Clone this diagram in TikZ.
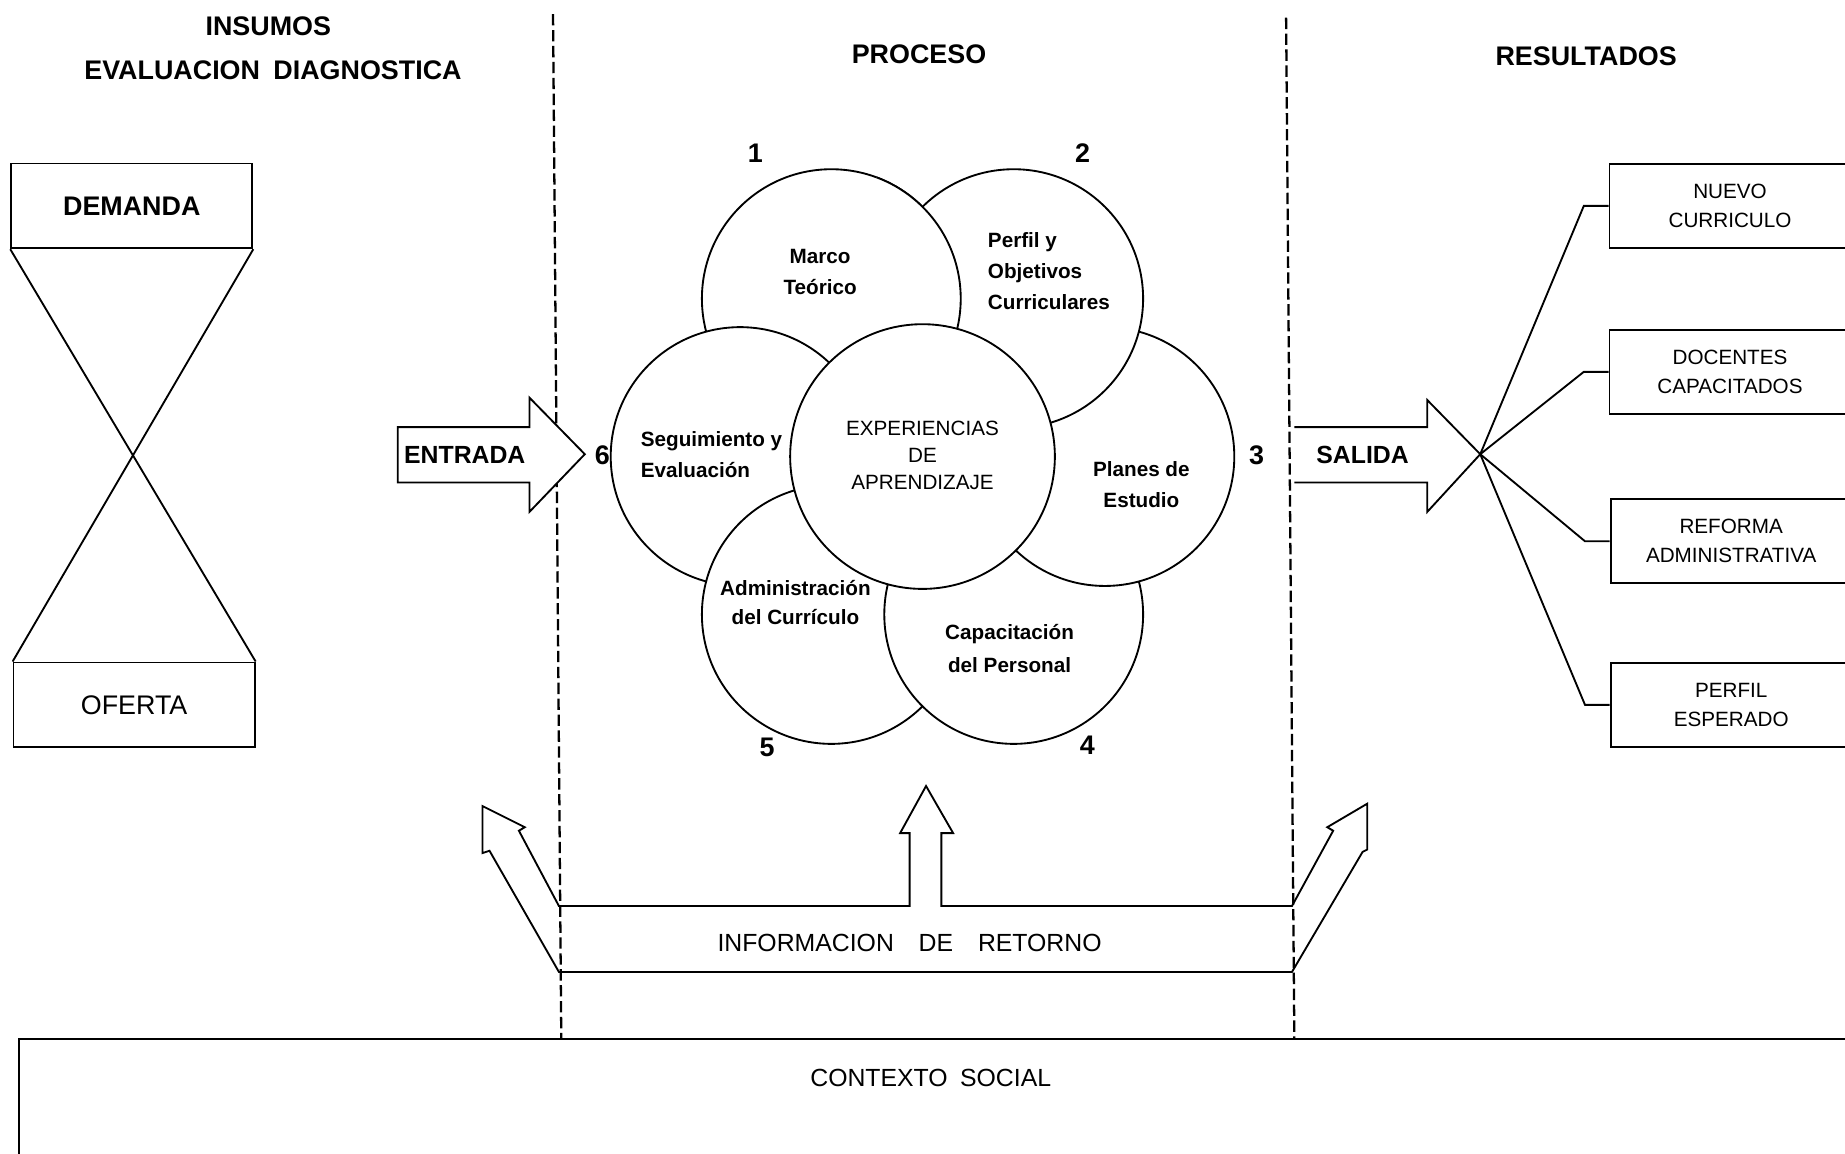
\documentclass[tikz,border=0pt]{standalone}
\usepackage{fontspec}
\setmainfont{Liberation Sans}
\usetikzlibrary{positioning}
\usetikzlibrary{calc}

\tikzset{
	box/.style={draw, line width=0.9pt, minimum width=4.1cm, minimum height=1.44cm, inner sep=0pt},
	resbox/.style={draw, line width=0.9pt, anchor=west, minimum width=4.1cm, minimum height=1.43cm, inner sep=0pt, align=center, font=\fontsize{10}{14}\selectfont},
	ring/.style={circle, draw, fill=white, line width=0.9pt, minimum size=4.4cm, inner sep=0pt},
	ringtext/.style={font=\bfseries\fontsize{10}{15}\selectfont, align=center},
	head/.style={font=\bfseries\fontsize{13}{15}\selectfont},
	num/.style={font=\bfseries\fontsize{13}{15}\selectfont},
	divider/.style={dash pattern=on 5.5pt off 2.2pt, line width=1.1pt},
}

\begin{document}
\begin{tikzpicture}[x=0.02cm, y=-0.02cm, line width=0.9pt]
			\useasboundingbox (0,0) rectangle (1568,980);
			\clip (0,0) rectangle (1568,980);
			% headings
			\node[head] (insumos) at (228,22) {INSUMOS};
			\node[head] (evaluacion) at (232,60) {EVALUACION\hspace{0.5em}DIAGNOSTICA};
			\node[head] (proceso) at (781,46) {PROCESO};
			\node[head] (resultados) at (1348,48) {RESULTADOS};
			
			% dashed dividers
			\draw[divider] (470,12) -- (477,882);
			\draw[divider] (1093,15) -- (1100,882);
			
			% demanda / oferta
			\node[box, font=\bfseries\fontsize{13}{15}\selectfont] (demanda) at (112,175) {DEMANDA};
			\node[box, font=\fontsize{13}{15}\selectfont] (oferta) at (114,599) {OFERTA};
			\draw (demanda.south west) -- (oferta.north east);
			\draw (demanda.south east) -- (oferta.north west);
			
			% entrada arrow
			\filldraw[fill=white] (338,363) -- (450,363) -- (450,338) -- (497,386) -- (450,435) -- (450,410) -- (338,410) -- cycle;
			\node[font=\bfseries\fontsize{12}{14}\selectfont] (entrada) at (395,387) {ENTRADA};
			
			% circles, each one over the next
			\node[ring] (c1) at (706.5,253.8) {};
			\node[ring] (c6) at (629,388) {};
			\node[ring] (c5) at (706.5,522.2) {};
			\node[ring] (c4) at (861.5,522.2) {};
			\node[ring] (c3) at (939,388) {};
			\node[ring] (c2) at (861.5,253.8) {};
			\begin{scope}
				\clip (745,100) rectangle (1000,420);
				\node[ring] (c1top) at (706.5,253.8) {};
			\end{scope}
			\node[ring, minimum size=4.5cm] (c0) at (784,388) {};
			
			% circle texts
			\node[ringtext] (marco) at (697,231) {Marco\\Teórico};
			\node[ringtext, align=left, anchor=west] (perfil) at (833,230) {Perfil y\\Objetivos\\Curriculares};
			\node[ringtext] (planes) at (970,412) {Planes de\\Estudio};
			\node[ringtext, font=\bfseries\fontsize{10}{16}\selectfont] (capacitacion) at (858,551) {Capacitación\\del Personal};
			\node[ringtext, font=\bfseries\fontsize{10}{14}\selectfont] (administracion) at (676,512) {Administración\\del Currículo};
			\node[ringtext, align=left, anchor=west] (seguimiento) at (538,386) {Seguimiento y\\Evaluación};
			\node[ringtext, font=\fontsize{10}{13}\selectfont] (experiencias) at (784,387) {EXPERIENCIAS\\DE\\APRENDIZAJE};
			
			% numbers
			\node[num] (n1) at (642,130) {1};
			\node[num] (n2) at (920,130) {2};
			\node[num] (n3) at (1068,387) {3};
			\node[num] (n4) at (924,633) {4};
			\node[num] (n5) at (652,635) {5};
			\node[num] (n6) at (512,387) {6};
			
			% salida arrow
			\draw (1100,363) -- (1213,363) -- (1213,340) -- (1258,386) -- (1213,435) -- (1213,410) -- (1100,410);
			\node[font=\bfseries\fontsize{12}{14}\selectfont] (salida) at (1158,387) {SALIDA};
			\coordinate (tip) at (1258,386);
			
			% resultados
			\node[resbox] (nuevo) at (1367,175) {NUEVO\\CURRICULO};
			\node[resbox] (docentes) at (1367,316) {DOCENTES\\CAPACITADOS};
			\node[resbox] (reforma) at (1368,460) {REFORMA\\ADMINISTRATIVA};
			\node[resbox] (perfilesp) at (1368,599) {PERFIL\\ESPERADO};
			\draw (tip) -- ([xshift=-0.42cm]nuevo.west) -- (nuevo.west);
			\draw (tip) -- ([xshift=-0.42cm]docentes.west) -- (docentes.west);
			\draw (tip) -- ([xshift=-0.42cm]reforma.west) -- (reforma.west);
			\draw (tip) -- ([xshift=-0.42cm]perfilesp.west) -- (perfilesp.west);
			
			% informacion de retorno
			\draw (475,826) -- (416,723) -- (410,725) -- (410,685) -- (446,703) -- (441,706) -- (475,770) -- (773,770) -- (773,708) -- (765,708) -- (787,668) -- (810,708) -- (800,708) -- (800,770) -- (1098,770) -- (1133,706) -- (1128,703) -- (1162,683) -- (1162,722) -- (1158,724) -- (1098,826) -- cycle;
			\node[font=\fontsize{12}{14}\selectfont] (retorno) at (773,801) {INFORMACION\hspace{1em}DE\hspace{1em}RETORNO};
			
			% contexto social
			\node[draw, anchor=north west, minimum width=31.5cm, minimum height=3cm] (contexto) at (15,882) {};
			\node[font=\fontsize{12}{14}\selectfont] (contextotext) at (791,916) {CONTEXTO\hspace{0.5em}SOCIAL};
		\end{tikzpicture}
\end{document}
